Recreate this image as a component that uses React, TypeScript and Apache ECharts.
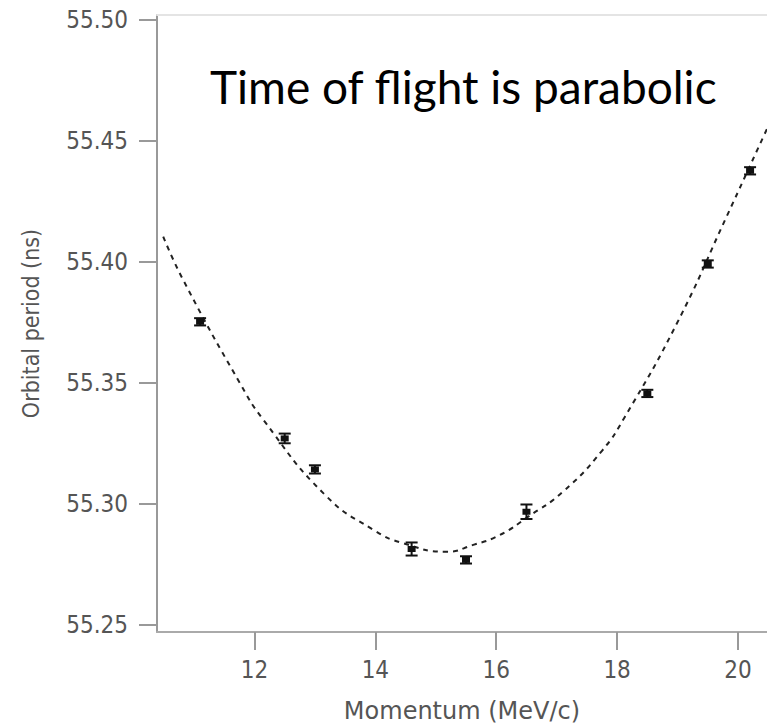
import React, { useEffect, useRef } from "react";
import * as echarts from "echarts";

// Measured data points (momentum in MeV/c, orbital period in ns, half error bar in ns)
const momentum = [11.1, 12.5, 13.0, 14.6, 15.5, 16.5, 18.5, 19.5, 20.2];
const period = [55.3753, 55.3271, 55.3143, 55.2814, 55.2769, 55.2968, 55.3457, 55.3992, 55.4377];
const errHalf = [0.0015, 0.002, 0.0017, 0.0027, 0.0015, 0.003, 0.0015, 0.0015, 0.0015];

// Points
const fitX = [10.49, 10.82, 11.76, 12.15, 13.17, 13.97, 14.46, 15.18, 15.62, 16.06, 16.53, 17.1, 17.75, 18.13, 18.99, 19.81, 20.42, 20.48];
const fitY = [55.4105, 55.3926, 55.3499, 55.3347, 55.3037, 55.2893, 55.2838, 55.2803, 55.2831, 55.2872, 55.2948, 55.305, 55.322, 55.3361, 55.3747, 55.4187, 55.4518, 55.455];

const xTicks = [12, 14, 16, 18, 20];
const yTicks = [55.25, 55.3, 55.35, 55.4, 55.45, 55.5];

const titleText = "Time of flight is parabolic";
const xName = "Momentum (MeV/c)";
const yName = "Orbital period (ns)";

export default function App() {
  const ref = useRef<HTMLDivElement>(null);
  useEffect(() => {
    if (!ref.current) return;
    const chart = echarts.init(ref.current, null, { renderer: "svg" });
    const labelFont = "'DejaVu Sans Condensed', 'DejaVu Sans', sans-serif";
    const nameFont = "'DejaVu Sans', sans-serif";
    const option: any = {
      animation: false,
      backgroundColor: "#ffffff",
      title: {
        text: titleText,
        left: 205,
        top: 58,
        textStyle: { fontFamily: "Lato, sans-serif", fontSize: 46, fontWeight: "normal", color: "#000" },
      },
      grid: { left: 157, right: 0, top: 15, bottom: 93, containLabel: false, outerBoundsMode: "none" },
      xAxis: [
        {
          type: "value",
          min: 10.387,
          max: 20.48,
          name: xName,
          nameLocation: "middle",
          nameGap: 67,
          nameTextStyle: { fontFamily: nameFont, fontSize: 24, color: "#555" },
          axisLine: { show: true, lineStyle: { color: "#aaa", width: 2 } },
          axisTick: { show: true, length: 18, customValues: xTicks, lineStyle: { color: "#999", width: 2 } },
          axisLabel: { customValues: xTicks, margin: 26, fontFamily: labelFont, fontSize: 24, color: "#555" },
          splitLine: { show: false },
        },
        {
          type: "value",
          position: "top",
          min: 10.387,
          max: 20.48,
          axisLine: { show: true, lineStyle: { color: "#e4e4e4", width: 2 } },
          axisTick: { show: false },
          axisLabel: { show: false },
          splitLine: { show: false },
        },
      ],
      yAxis: {
        type: "value",
        min: 55.2471,
        max: 55.5021,
        name: yName,
        nameLocation: "middle",
        nameGap: 115,
        nameTextStyle: { fontFamily: labelFont, fontSize: 23, color: "#555" },
        axisLine: { show: true, lineStyle: { color: "#999", width: 2 } },
        axisTick: { show: true, length: 18, customValues: yTicks, lineStyle: { color: "#999", width: 2 } },
        axisLabel: {
          customValues: yTicks,
          margin: 29,
          fontFamily: labelFont,
          fontSize: 24,
          color: "#555",
          formatter: (v: number) => v.toFixed(2),
        },
        splitLine: { show: false },
      },
      series: [
        {
          type: "line",
          data: fitX.map((x, i) => [x, fitY[i]]),
          smooth: true,
          showSymbol: false,
          symbol: "none",
          lineStyle: { color: "#222", width: 2, type: [5, 5] },
          z: 2,
        },
        {
          type: "custom",
          data: momentum.map((x, i) => [x, period[i], errHalf[i]]),
          renderItem: (params: any, api: any) => {
            const x = api.value(0);
            const y = api.value(1);
            const e = api.value(2);
            const p = api.coord([x, y]);
            const t = api.coord([x, y + e]);
            const b = api.coord([x, y - e]);
            const style = { stroke: "#111", lineWidth: 2 };
            return {
              type: "group",
              children: [
                { type: "line", shape: { x1: p[0], y1: t[1], x2: p[0], y2: b[1] }, style },
                { type: "line", shape: { x1: p[0] - 6, y1: t[1], x2: p[0] + 6, y2: t[1] }, style },
                { type: "line", shape: { x1: p[0] - 6, y1: b[1], x2: p[0] + 6, y2: b[1] }, style },
                { type: "rect", shape: { x: p[0] - 4, y: p[1] - 3, width: 8, height: 6 }, style: { fill: "#111" } },
              ],
            };
          },
          z: 3,
        },
      ],
    };
    chart.setOption(option);
    return () => chart.dispose();
  }, []);
  return <div ref={ref} style={{ position: "fixed", left: 0, top: 0, width: 767, height: 725 }} />;
}
